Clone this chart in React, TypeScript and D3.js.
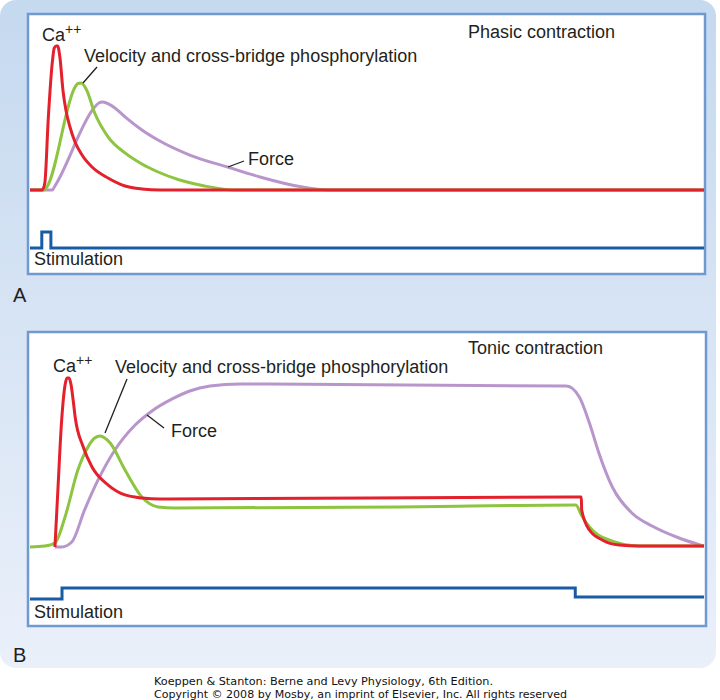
import React from "react";
import * as d3 from "d3";

// ---- Data (time in % of sweep, level in arbitrary units above baseline) ----
// Panel A — phasic contraction
const caA: [number, number][] = [
  [0, 0], [1.8, 0], [2.2, 4.7], [2.7, 46.7], [3.3, 84.7], [3.6, 94.7], [3.9, 96], [4.1, 96],
  [4.45, 88], [4.9, 66], [5.34, 53], [5.93, 42], [6.68, 32], [7.72, 23.3], [9.2, 15.3],
  [11.57, 8], [14.1, 2.7], [16.6, 0.7], [19.3, 0], [100, 0],
];
const velA: [number, number][] = [
  [0, 0], [2.1, 0], [2.5, 2], [6.7, 68.7], [7.1, 71], [7.6, 71.3], [8.4, 66.7], [9.6, 51.3],
  [11.6, 35.3], [14.1, 24.7], [16.6, 17.3], [19, 12], [22.2, 6.7], [25.9, 2.7], [30.4, 0], [100, 0],
];
const forceA: [number, number][] = [
  [0, 0], [3.3, 0], [3.7, 2.7], [9.6, 55.3], [10.2, 58], [10.8, 58.7], [11.7, 57.3], [12.6, 54.7],
  [14.1, 48.7], [16.6, 40], [19, 33.3], [23.7, 23.3], [29.3, 15.3], [34.1, 8.7], [40, 2.3],
  [44.4, 0], [100, 0],
];
const stimA: [number, number][] = [[0, 0], [1.75, 1], [3.1, 0], [100, 0]];

// Panel B — tonic contraction
const caB: [number, number][] = [
  [3.7, 0], [4.1, 34.7], [4.7, 84.7], [5.2, 108], [5.5, 112.7], [5.8, 112.7], [6.1, 108],
  [6.4, 98], [6.7, 86.7], [7.9, 66.7], [9.2, 53.3], [11.6, 41.3], [14.1, 34.7], [16.6, 32.7],
  [19.3, 32], [81.5, 33.3], [81.8, 33.3], [81.85, 24.7], [83, 11.3], [84.9, 4.7], [87.4, 1.3],
  [90.4, 0.6], [100, 0.6],
];
const velB: [number, number][] = [
  [0, 0], [2.2, 0.7], [3.7, 2.7], [5.2, 20], [7.1, 51.3], [8.6, 66.7], [9.6, 72.7], [10.4, 74],
  [11.1, 72.7], [11.9, 69.3], [14.1, 51.3], [16.6, 33.3], [19, 26.7], [21.5, 26], [54.8, 26.7],
  [81, 28], [81.8, 21.3], [83, 13.3], [85.9, 4.7], [90.4, 0.7], [100, 0.6],
];
const forceB: [number, number][] = [
  [3.7, 0], [4.7, 0], [6.2, 3.3], [8.1, 24.7], [10.1, 44.7], [12.6, 64.7], [15.6, 81.3],
  [18.1, 90.7], [21.1, 98.7], [23.7, 104], [26.7, 107.3], [31.2, 108.7], [79.6, 107.3], [81.5, 100],
  [83, 82.7], [84.4, 62.7], [86.4, 40], [89.3, 22.7], [92.3, 14], [96.3, 6], [100, 0.6],
];
const stimB: [number, number][] = [[0, 0], [4.75, 1], [80.9, 0.18], [100, 0.18]];

const panelTitles = ["Phasic contraction", "Tonic contraction"];
const panelLetters = ["A", "B"];
const seriesLabels = { ca: "Ca", vel: "Velocity and cross-bridge phosphorylation", force: "Force", stim: "Stimulation" };
const footer = [
  "Koeppen & Stanton: Berne and Levy Physiology, 6th Edition.",
  "Copyright \u00a9 2008 by Mosby, an imprint of Elsevier, Inc. All rights reserved",
];

const COLORS = { ca: "#e3202b", vel: "#8dc440", force: "#b896cc", stim: "#1a5ca4", border: "#7099d0" };
const FONT = "'Liberation Sans', Arial, Helvetica, sans-serif";

const x = d3.scaleLinear().domain([0, 100]).range([30, 704]);

type PanelCfg = {
  box: [number, number, number, number];
  base: number;
  stimRange: [number, number];
  ca: [number, number][];
  vel: [number, number][];
  force: [number, number][];
  stim: [number, number][];
  title: string;
  letter: string;
  letterY: number;
  labels: {
    ca: [number, number];
    vel: [number, number];
    velLeader: [number, number, number, number];
    force: [number, number];
    forceLeader: [number, number, number, number];
    stim: [number, number];
    title: [number, number];
  };
};

function Panel({ cfg }: { cfg: PanelCfg }) {
  const y = d3.scaleLinear().domain([0, 100]).range([cfg.base, cfg.base - 150]);
  const ys = d3.scaleLinear().domain([0, 1]).range(cfg.stimRange);
  const line = d3
    .line<[number, number]>()
    .x((d) => x(d[0]))
    .y((d) => y(d[1]))
    .curve(d3.curveMonotoneX);
  const stimLine = d3
    .line<[number, number]>()
    .x((d) => x(d[0]))
    .y((d) => ys(d[1]))
    .curve(d3.curveStepAfter);
  const [bx, by, bw, bh] = cfg.box;
  const L = cfg.labels;
  const textStyle = { fontFamily: FONT, fontSize: 18, fill: "#231f20" } as const;
  return (
    <g>
      <rect x={bx} y={by} width={bw} height={bh} fill="#fff" stroke={COLORS.border} strokeWidth={2.5} />
      <path d={stimLine(cfg.stim) || ""} fill="none" stroke={COLORS.stim} strokeWidth={3} />
      <path d={line(cfg.force) || ""} fill="none" stroke={COLORS.force} strokeWidth={3} strokeLinejoin="round" />
      <path d={line(cfg.vel) || ""} fill="none" stroke={COLORS.vel} strokeWidth={3} strokeLinejoin="round" />
      <path d={line(cfg.ca) || ""} fill="none" stroke={COLORS.ca} strokeWidth={3} strokeLinejoin="round" />
      <text x={L.ca[0]} y={L.ca[1]} style={textStyle}>
        {seriesLabels.ca}
        <tspan dy={-7} fontSize={14}>++</tspan>
      </text>
      <text x={L.vel[0]} y={L.vel[1]} style={textStyle}>{seriesLabels.vel}</text>
      <line x1={L.velLeader[0]} y1={L.velLeader[1]} x2={L.velLeader[2]} y2={L.velLeader[3]} stroke="#231f20" strokeWidth={1.3} />
      <text x={L.force[0]} y={L.force[1]} style={textStyle}>{seriesLabels.force}</text>
      <line x1={L.forceLeader[0]} y1={L.forceLeader[1]} x2={L.forceLeader[2]} y2={L.forceLeader[3]} stroke="#231f20" strokeWidth={1.3} />
      <text x={L.stim[0]} y={L.stim[1]} style={textStyle}>{seriesLabels.stim}</text>
      <text x={L.title[0]} y={L.title[1]} style={textStyle}>{cfg.title}</text>
      <text x={13} y={cfg.letterY} style={{ fontFamily: FONT, fontSize: 20, fill: "#231f20" }}>{cfg.letter}</text>
    </g>
  );
}

const panelA: PanelCfg = {
  box: [28, 14, 677, 260],
  base: 190,
  stimRange: [248, 232],
  ca: caA, vel: velA, force: forceA, stim: stimA,
  title: panelTitles[0], letter: panelLetters[0], letterY: 302,
  labels: {
    ca: [42, 41],
    vel: [84, 62],
    velLeader: [97, 67, 83, 83],
    force: [248, 165],
    forceLeader: [228, 167, 244, 161],
    stim: [34, 265],
    title: [468, 38],
  },
};

const panelB: PanelCfg = {
  box: [28, 332, 678, 294],
  base: 547,
  stimRange: [599, 588],
  ca: caB, vel: velB, force: forceB, stim: stimB,
  title: panelTitles[1], letter: panelLetters[1], letterY: 662,
  labels: {
    ca: [53, 372],
    vel: [115, 373],
    velLeader: [127, 379, 105, 433],
    force: [171, 437],
    forceLeader: [147, 415, 164, 428],
    stim: [34, 618],
    title: [468, 354],
  },
};

export default function App() {
  return (
    <svg width={720} height={700} style={{ position: "absolute", left: 0, top: 0, background: "#fff" }}>
      <defs>
        <linearGradient id="bg" x1="0" y1="0" x2="0" y2="1">
          <stop offset="0" stopColor="#c5d9ef" />
          <stop offset="1" stopColor="#eaf0fa" />
        </linearGradient>
      </defs>
      <rect x={0} y={0} width={716} height={668} rx={16} fill="url(#bg)" />
      <Panel cfg={panelA} />
      <Panel cfg={panelB} />
      <text x={154} y={685} textLength={339} lengthAdjust="spacingAndGlyphs" style={{ fontFamily: "'DejaVu Sans', Verdana, sans-serif", fontSize: 11, fill: "#111" }}>
        {footer[0]}
      </text>
      <text x={154} y={698} textLength={413} lengthAdjust="spacingAndGlyphs" style={{ fontFamily: "'DejaVu Sans', Verdana, sans-serif", fontSize: 11, fill: "#111" }}>
        {footer[1]}
      </text>
    </svg>
  );
}
